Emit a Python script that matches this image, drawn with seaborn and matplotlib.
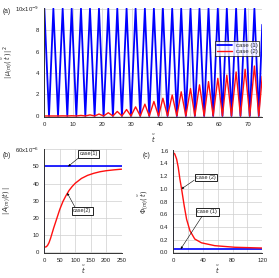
import numpy as np
import pandas as pd
import matplotlib
matplotlib.use("Agg")
import matplotlib.pyplot as plt
import seaborn as sns
from matplotlib.lines import Line2D

sns.set_style("white")
plt.rcParams['font.family'] = ['Liberation Sans', 'DejaVu Sans']
plt.rcParams['mathtext.fontset'] = 'dejavusans'

# ---------------- data: panel (a) ----------------
a_peak_t = [0.0, 3.1, 6.3, 9.4, 12.6, 15.7, 18.8, 22.0, 25.1, 28.3, 31.4, 34.6,
            37.7, 40.8, 44.0, 47.1, 50.3, 53.4, 56.5, 59.7, 62.8, 66.0, 69.1, 72.3]
a_trough_t = [1.6, 4.7, 7.9, 11.0, 14.1, 17.3, 20.4, 23.6, 26.7, 29.8, 33.0, 36.1,
              39.3, 42.4, 45.6, 48.7, 51.8, 55.0, 58.1, 61.3, 64.4, 67.5, 70.7, 73.8]
a_case1_peak = [10.0] * 24
a_case2_peak = [0.0, 0.0, 0.01, 0.02, 0.05, 0.1, 0.18, 0.3, 0.42, 0.6, 0.85, 1.1,
                1.35, 1.65, 1.95, 2.25, 2.55, 2.9, 3.2, 3.5, 3.8, 4.1, 4.35, 4.65]
a_end_t = 75.0
a_case1_end = 8.5
a_case2_end = 3.7
a_yticks = [0, 2, 4, 6, 8, 10]
a_yticklabels = ['0', '2', '4', '6', '8', '10x10$^{-9}$']
a_xticks = [0, 10, 20, 30, 40, 50, 60, 70]

# ---------------- data: panel (b) ----------------
b_case1_t = [0, 0, 250]
b_case1_v = [0, 50, 50]
b_case2_t = [0, 5, 10, 15, 20, 25, 30, 40, 50, 60, 70, 80, 90, 100, 120, 140,
             160, 180, 200, 225, 250]
b_case2_v = [3.0, 3.0, 3.8, 5.5, 8.0, 11.0, 14.0, 19.5, 25.0, 29.5, 33.0, 36.0,
             38.3, 40.2, 43.0, 44.8, 46.0, 46.9, 47.5, 48.0, 48.4]
b_yticks = [0, 10, 20, 30, 40, 50, 60]
b_yticklabels = ['0', '10', '20', '30', '40', '50', '60x10$^{-6}$']
b_xticks = [0, 50, 100, 150, 200, 250]

# ---------------- data: panel (c) ----------------
c_case1_t = [0, 0, 120]
c_case1_v = [1.571, 0.052, 0.052]
c_case2_t = [0, 2, 4.5, 6.7, 9, 11.2, 14.8, 18, 22.5, 29, 38, 56, 83, 120]
c_case2_v = [1.57, 1.55, 1.47, 1.34, 1.15, 1.0, 0.73, 0.52, 0.34, 0.21, 0.15,
             0.105, 0.08, 0.068]
c_yticks = [0.0, 0.2, 0.4, 0.6, 0.8, 1.0, 1.2, 1.4, 1.6]
c_xticks = [0, 40, 80, 120]

BLUE = '#0000ff'
RED = '#ff1010'
FS = 4.3

fig = plt.figure(figsize=(2.79, 2.78), dpi=100)
ax_a = fig.add_axes([0.159, 0.579, 0.781, 0.392])
ax_b = fig.add_axes([0.159, 0.090, 0.277, 0.373])
ax_c = fig.add_axes([0.621, 0.090, 0.319, 0.370])


def style(ax):
    for s in ['top', 'right']:
        ax.spines[s].set_visible(False)
    for s in ['left', 'bottom']:
        ax.spines[s].set_color('#333333')
        ax.spines[s].set_linewidth(0.7)
    ax.tick_params(axis='both', labelsize=FS, length=2, width=0.5, pad=1.5,
                   direction='out', colors='#222222')
    ax.tick_params(axis='both', which='minor', length=1.2, width=0.4,
                   direction='out', colors='#222222')
    ax.grid(True, color='#cfcfcf', lw=0.5)
    ax.set_axisbelow(True)


# build panel (a) polyline from the read extrema
rows = []
for case, peaks, end in [('case (1)', a_case1_peak, a_case1_end),
                         ('case (2)', a_case2_peak, a_case2_end)]:
    pts = [(t, v) for t, v in zip(a_peak_t, peaks)] + [(t, 0.0) for t in a_trough_t]
    pts.append((a_end_t, end))
    pts.sort()
    for t, v in pts:
        rows.append({'t': t, 'v': v, 'case': case})
df_a = pd.DataFrame(rows)

sns.lineplot(data=df_a, x='t', y='v', hue='case', palette=[BLUE, RED],
             estimator=None, sort=False, ax=ax_a, legend=False)
for ln, lw in zip(ax_a.get_lines(), [1.3, 1.0]):
    ln.set_linewidth(lw)
    ln.set_solid_joinstyle('round')
style(ax_a)
ax_a.set_xlim(0, 75)
ax_a.set_ylim(-0.1, 10.05)
ax_a.set_xticks(a_xticks)
ax_a.set_yticks(a_yticks)
ax_a.set_yticklabels(a_yticklabels)
ax_a.set_xlabel(r'$\tilde{t}$', fontsize=FS + 0.5)
ax_a.set_ylabel(r'$|\,\mu_{(m)}(\,\tilde{t}\,)\,|^2$', fontsize=FS + 0.5)
ax_a.xaxis.set_label_coords(0.5, -0.14)
ax_a.yaxis.set_label_coords(-0.135, 0.5)
h = [Line2D([], [], color=BLUE, lw=1.3), Line2D([], [], color=RED, lw=1.0)]
leg = ax_a.legend(h, ['case (1)', 'case (2)'], loc='upper right',
                  bbox_to_anchor=(1.0, 0.725), fontsize=FS, frameon=True,
                  fancybox=False, edgecolor='black', handlelength=2.6,
                  borderpad=0.3, labelspacing=0.1, handletextpad=0.6)
leg.get_frame().set_linewidth(0.6)

# panel (b)
df_b1 = pd.DataFrame({'t': b_case1_t, 'v': b_case1_v})
df_b2 = pd.DataFrame({'t': b_case2_t, 'v': b_case2_v})
sns.lineplot(data=df_b1, x='t', y='v', color=BLUE, lw=1.2, sort=False,
             estimator=None, ax=ax_b)
sns.lineplot(data=df_b2, x='t', y='v', color=RED, lw=1.0, sort=False,
             estimator=None, ax=ax_b)
style(ax_b)
ax_b.set_xlim(0, 250)
ax_b.set_ylim(-0.5, 60)
ax_b.set_xticks(b_xticks)
ax_b.set_yticks(b_yticks)
ax_b.set_yticklabels(b_yticklabels)
ax_b.set_xlabel(r'$\tilde{t}$', fontsize=FS + 0.5)
ax_b.set_ylabel(r'$|\,A_{(m)}(\tilde{t})\,|$', fontsize=FS + 0.5)
ax_b.xaxis.set_label_coords(0.5, -0.105)
ax_b.yaxis.set_label_coords(-0.40, 0.5)

box = dict(boxstyle='square,pad=0.25', fc='white', ec='black', lw=0.6)
arr = dict(arrowstyle='-|>', color='black', lw=0.4, mutation_scale=3,
           shrinkA=0, shrinkB=0)
ax_b.annotate('case(1)', xy=(77, 50), xytext=(144, 57.4), fontsize=FS - 0.3,
              ha='center', va='center', bbox=box,
              arrowprops=dict(arr, relpos=(0.05, 0.0)))
ax_b.annotate('case(2)', xy=(74, 34.5), xytext=(122, 24), fontsize=FS - 0.3,
              ha='center', va='center', bbox=box,
              arrowprops=dict(arr, relpos=(0.15, 1.0)))

# panel (c)
df_c1 = pd.DataFrame({'t': c_case1_t, 'v': c_case1_v})
df_c2 = pd.DataFrame({'t': c_case2_t, 'v': c_case2_v})
sns.lineplot(data=df_c1, x='t', y='v', color=BLUE, lw=1.2, sort=False,
             estimator=None, ax=ax_c)
sns.lineplot(data=df_c2, x='t', y='v', color=RED, lw=1.0, sort=False,
             estimator=None, ax=ax_c)
style(ax_c)
ax_c.set_xlim(0, 120)
ax_c.set_ylim(-0.01, 1.61)
ax_c.set_xticks(c_xticks)
ax_c.set_xticks([20, 60, 100], minor=True)
ax_c.grid(True, which='minor', color='#cfcfcf', lw=0.5)
ax_c.set_yticks(c_yticks)
ax_c.set_yticklabels([f'{v:.1f}' for v in c_yticks])
ax_c.set_xlabel(r'$\tilde{t}$', fontsize=FS + 0.5)
ax_c.set_ylabel(r'$\Phi_{(m)}(\,\tilde{t}\,)$', fontsize=FS + 0.5)
ax_c.xaxis.set_label_coords(0.5, -0.105)
ax_c.yaxis.set_label_coords(-0.25, 0.5)
ax_c.annotate('case (2)', xy=(11.2, 1.0), xytext=(44, 1.18), fontsize=FS - 0.3,
              ha='center', va='center', bbox=box,
              arrowprops=dict(arr, relpos=(0.0, 0.2)))
ax_c.annotate('case (1)', xy=(10, 0.052), xytext=(46, 0.64), fontsize=FS - 0.3,
              ha='center', va='center', bbox=box,
              arrowprops=dict(arr, relpos=(0.3, 0.0)))

fig.text(0.008, 0.972, '(a)', fontsize=FS + 0.5, va='top', ha='left')
fig.text(0.008, 0.455, '(b)', fontsize=FS + 0.5, va='top', ha='left')
fig.text(0.512, 0.455, '(c)', fontsize=FS + 0.5, va='top', ha='left')

fig.savefig('out.png', dpi=100)
